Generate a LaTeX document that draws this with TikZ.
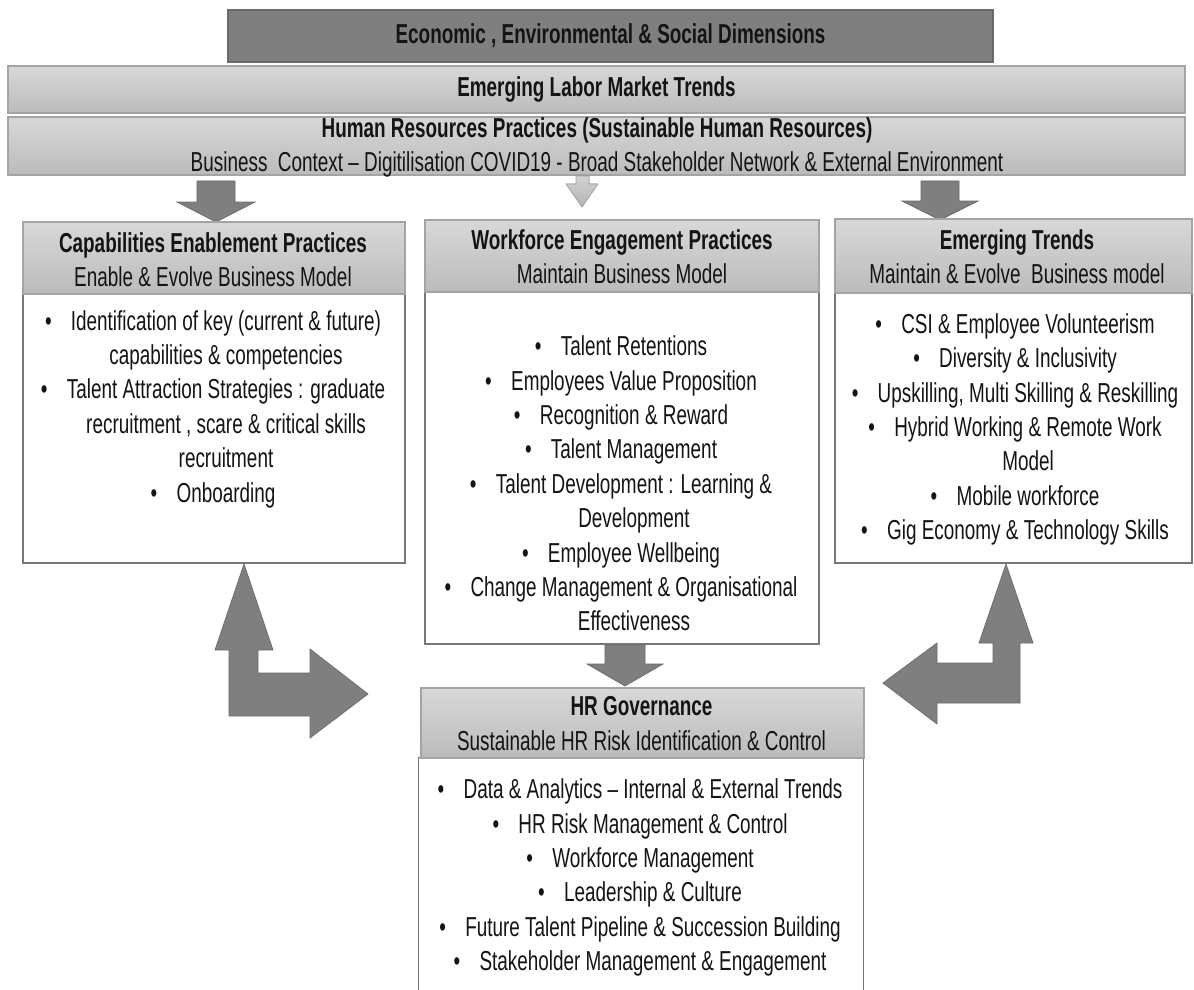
\documentclass[tikz,border=0pt]{standalone}
\usepackage{fontspec}
\setmainfont[FakeStretch=0.69]{Liberation Sans}
\usetikzlibrary{fit}
\definecolor{arrowgray}{HTML}{7F7F7F}
\definecolor{edgegray}{HTML}{6A6A6A}
\definecolor{hdrtop}{HTML}{D8D8D8}
\definecolor{hdrbot}{HTML}{BBBBBB}
\definecolor{hdredge}{HTML}{A4A4A4}
\definecolor{boxedge}{HTML}{777777}
\definecolor{txtcol}{HTML}{141414}
\definecolor{lighttop}{HTML}{D2D2D2}
\definecolor{lightbot}{HTML}{B4B4B4}
\newcommand\bul{\llap{\textbullet\hspace{11pt}}}
\begin{document}
\begin{tikzpicture}[x=0.02cm,y=-0.02cm,
  txt/.style={inner sep=0pt, align=center, text=txtcol, font=\fontsize{15.6}{19.56}\selectfont},
  hdrbox/.style={inner sep=0pt, draw=hdredge, line width=0.6pt, top color=hdrtop, bottom color=hdrbot},
  bodybox/.style={inner sep=0pt, draw=boxedge, line width=0.8pt, fill=white},
  darkbox/.style={inner sep=0pt, draw=edgegray, line width=0.6pt, fill=arrowgray},
  blockarrow/.style={fill=arrowgray, draw=edgegray, line width=0.4pt, line join=miter},
  lightarrow/.style={top color=lighttop, bottom color=lightbot, draw=hdredge, line width=0.4pt}
]
\useasboundingbox (0,0) rectangle (1194,990);
\fill[white] (0,0) rectangle (1194,990);

% top banners
\node[darkbox, fit={(228,10) (993,62)}] (econ) {};
\node[txt] (econtxt) at (econ.center) {\textbf{Economic , Environmental \& Social Dimensions}};

\node[hdrbox, fit={(8,66) (1185,113)}] (labor) {};
\node[txt] (labortxt) at (labor.center) {\textbf{Emerging Labor Market Trends}};

\node[hdrbox, fit={(8,117) (1185,175)}] (hrp) {};
\node[txt] (hrptxt) at (597,147.5) {\textbf{Human Resources Practices (Sustainable Human Resources)}\\
Business~ Context – Digitilisation COVID19 - Broad Stakeholder Network \& External Environment};

% down arrows from banner
\filldraw[blockarrow] (197,181) -- (235,181) -- (235,202) -- (255,202) -- (216,222) -- (177,202) -- (197,202) -- cycle;
\filldraw[lightarrow] (576,176) -- (589,176) -- (589,184) -- (598,184) -- (582,207) -- (566,184) -- (576,184) -- cycle;
\filldraw[blockarrow] (921,181) -- (959,181) -- (959,201) -- (978,201) -- (940,220) -- (902,201) -- (921,201) -- cycle;

% left column
\node[bodybox, fit={(23,294) (405,563)}] (capbody) {};
\node[hdrbox, fit={(23,222) (405,294)}] (caphdr) {};
\node[txt] (caphdrtxt) at (213,260) {\textbf{Capabilities Enablement Practices}\\Enable \& Evolve Business Model};
\node[txt] (capbodytxt) at (226,409) {\bul Identification of key (current \& future)\\
capabilities \& competencies\\
\bul Talent Attraction Strategies : graduate\\
recruitment , scare \& critical skills\\
recruitment\\
\bul Onboarding};

% middle column
\node[bodybox, fit={(425,292) (819,644)}] (wfbody) {};
\node[hdrbox, fit={(425,220) (819,292)}] (wfhdr) {};
\node[txt] (wfhdrtxt) at (622,256.5) {\textbf{Workforce Engagement Practices}\\Maintain Business Model};
\node[txt] (wfbodytxt) at (634,483.5) {\bul Talent Retentions\\
\bul Employees Value Proposition\\
\bul Recognition \& Reward\\
\bul Talent Management\\
\bul Talent Development : Learning \&\\
Development\\
\bul Employee Wellbeing\\
\bul Change Management \& Organisational\\
Effectiveness};

% right column
\node[bodybox, fit={(835,293) (1192,563)}] (etbody) {};
\node[hdrbox, fit={(835,219) (1192,293)}] (ethdr) {};
\node[txt] (ethdrtxt) at (1017,256.5) {\textbf{Emerging Trends}\\Maintain \& Evolve~ Business model};
\node[txt] (etbodytxt) at (1028,429.5) {\bul CSI \& Employee Volunteerism\\
\bul Diversity \& Inclusivity\\
\bul Upskilling, Multi Skilling \& Reskilling\\
\bul Hybrid Working \& Remote Work\\
Model\\
\bul Mobile workforce\\
\bul Gig Economy \& Technology Skills};

% HR governance
\node[inner sep=0pt, fill=white, fit={(419,758) (863,995)}] (govbody) {};
\draw[draw=boxedge, line width=0.8pt] (govbody.south west) -- (govbody.north west) -- (govbody.north east) -- (govbody.south east);
\node[hdrbox, fit={(421,688) (864,758)}] (govhdr) {};
\node[txt] (govhdrtxt) at (641.5,723.5) {\textbf{HR Governance}\\Sustainable HR Risk Identification \& Control};
\node[txt] (govbodytxt) at (653,877.5) {\bul Data \& Analytics – Internal \& External Trends\\
\bul HR Risk Management \& Control\\
\bul Workforce Management\\
\bul Leadership \& Culture\\
\bul Future Talent Pipeline \& Succession Building\\
\bul Stakeholder Management \& Engagement};

% middle down arrow
\filldraw[blockarrow] (605,645) -- (645,645) -- (645,664) -- (663,664) -- (625,686) -- (587,664) -- (605,664) -- cycle;

% left bent arrow
\filldraw[blockarrow] (244,564) -- (273,650) -- (258,650) -- (258,673) -- (310,673) -- (310,649) -- (368,694) -- (310,738) -- (310,716) -- (229,716) -- (229,650) -- (215,650) -- cycle;

% right bent arrow
\filldraw[blockarrow] (1006,564) -- (1033,643) -- (1020,643) -- (1020,703) -- (937,703) -- (937,724) -- (883,683) -- (937,643) -- (937,663) -- (993,663) -- (993,643) -- (979,643) -- cycle;
\end{tikzpicture}
\end{document}
